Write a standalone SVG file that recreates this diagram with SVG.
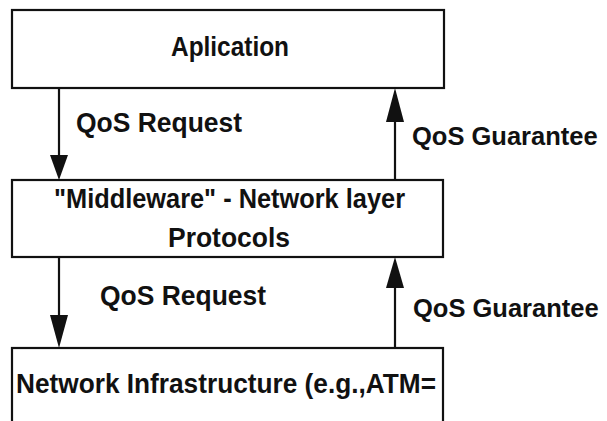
<svg xmlns="http://www.w3.org/2000/svg" width="607" height="421" viewBox="0 0 607 421">
<style>
.box{fill:none;stroke:#111;stroke-width:2.2}
.t{font-family:"Liberation Sans",Arial,sans-serif;font-weight:bold;font-size:27px;fill:#111}
.g{font-size:25.5px}
.c{stroke:#111;stroke-width:2.2;fill:none}
.h{fill:#111;stroke:none}
</style>
<rect width="607" height="421" fill="#fff"/>
<g id="application">
<rect class="box" x="12" y="10" width="432" height="78"/>
<text class="t" x="171" y="56" textLength="118" lengthAdjust="spacingAndGlyphs">Aplication</text>
</g>
<g id="middleware">
<rect class="box" x="12" y="180" width="431" height="77"/>
<text class="t" x="54" y="208" textLength="351" lengthAdjust="spacingAndGlyphs">"Middleware" - Network layer</text>
<text class="t" x="168" y="247" textLength="122" lengthAdjust="spacingAndGlyphs">Protocols</text>
</g>
<g id="network">
<rect class="box" x="12" y="348" width="431" height="90"/>
<text class="t" x="16" y="393" textLength="420" lengthAdjust="spacingAndGlyphs">Network Infrastructure (e.g.,ATM=</text>
</g>
<g id="connectors">
<line class="c" x1="59" y1="88" x2="59" y2="158"/>
<polygon class="h" points="50,155 68,155 59,180"/>
<line class="c" x1="395" y1="180" x2="395" y2="118"/>
<polygon class="h" points="386,122 404,122 395,88"/>
<line class="c" x1="59" y1="257" x2="59" y2="318"/>
<polygon class="h" points="50,315 68,315 59,348"/>
<line class="c" x1="395" y1="348" x2="395" y2="285"/>
<polygon class="h" points="386,288 404,288 395,257"/>
<text class="t" x="76" y="132" textLength="166" lengthAdjust="spacingAndGlyphs">QoS Request</text>
<text class="t g" x="412" y="145">QoS Guarantee</text>
<text class="t" x="100" y="305" textLength="166" lengthAdjust="spacingAndGlyphs">QoS Request</text>
<text class="t g" x="413" y="317">QoS Guarantee</text>
</g>
</svg>
